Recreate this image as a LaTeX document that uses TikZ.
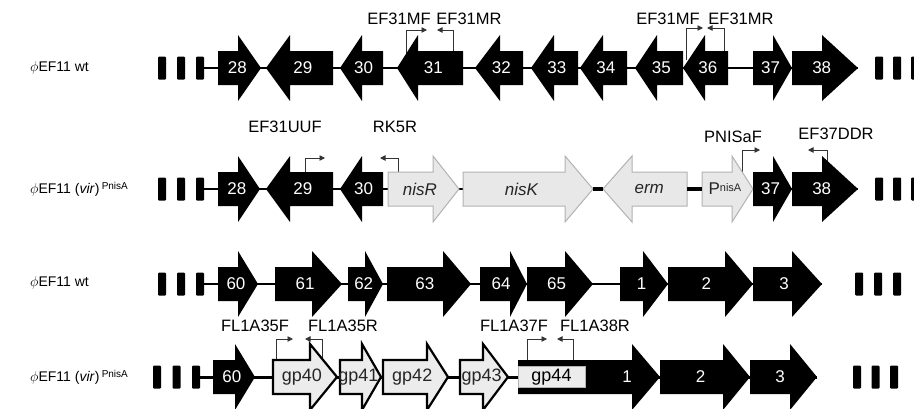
\documentclass[tikz,border=0pt]{standalone}
\usepackage{fontspec}
\setmainfont{Liberation Sans}
\usetikzlibrary{arrows.meta, backgrounds}

\def\bodyh{17}
\def\headh{33}

% style, name, back end, head base, tip, row y, label
\newcommand{\gene}[7]{%
  \path[#1] (#3,#6-\bodyh) -- (#4,#6-\bodyh) -- (#4,#6-\headh) -- (#5,#6)
    -- (#4,#6+\headh) -- (#4,#6+\bodyh) -- (#3,#6+\bodyh) -- cycle;
  \coordinate (#2 back) at (#3,#6);
  \coordinate (#2 tip) at (#5,#6);
  \node[#1 txt] (#2) at ({#3+0.45*(#5-#3)},#6) {#7};
}
% name, x, foot y, bend y, x of arrow tip
\newcommand{\primer}[5]{%
  \coordinate (#1 foot) at (#2,#3);
  \coordinate (#1 tip) at (#5,#4);
  \draw[primer] (#1 foot) |- (#1 tip);
}

\tikzset{
  orf/.style={fill=black},
  orf txt/.style={text=white, font=\fontsize{17}{17}\selectfont, inner sep=0pt},
  cassette/.style={fill=gray!18, draw=gray!60, line width=1pt},
  cassette txt/.style={text=black!85, font=\fontsize{17}{17}\selectfont\itshape, inner sep=0pt},
  hybrid/.style={fill=gray!15, draw=black, line width=2.2pt},
  hybrid txt/.style={text=black!85, font=\fontsize{18}{18}\selectfont, inner sep=0pt},
  gp box/.style={fill=gray!15, draw=gray!60, line width=0.8pt, minimum width=67pt,
    minimum height=21pt, inner sep=0pt, font=\fontsize{18}{18}\selectfont},
  blockmark/.style={fill=black, rounded corners=1pt, minimum width=8pt, minimum height=23pt, inner sep=0pt},
  backbone/.style={line width=2.5pt},
  primer/.style={line width=0.9pt, draw=black!80, -{Triangle[length=5.5pt,width=5.5pt]}},
  primer txt/.style={font=\fontsize{16.5}{16.5}\selectfont, inner sep=0pt},
  row txt/.style={anchor=west, font=\fontsize{14}{14}\selectfont, inner sep=0pt}
}

\begin{document}
\begin{tikzpicture}[x=1pt, y=-1pt]
    \useasboundingbox (0,0) rectangle (914,408);

    % row labels
    \node[row txt] (r1name) at (30,68) {$\phi$EF11 wt};
    \node[row txt] (r2name) at (30,189) {$\phi$EF11 (\textit{vir})\,\raisebox{4pt}{\fontsize{10}{10}\selectfont PnisA}};
    \node[row txt] (r3name) at (30,283) {$\phi$EF11 wt};
    \node[row txt] (r4name) at (30,377) {$\phi$EF11 (\textit{vir})\,\raisebox{4pt}{\fontsize{10}{10}\selectfont PnisA}};

    % row 1: wild type, genes 28-38
    \foreach \i in {0,1,2} {
        \node[blockmark] (r1L\i) at (162+19*\i,68) {};
        \node[blockmark] (r1R\i) at (879+18*\i,68) {};
    }
    \primer{p1}{406}{60}{30}{427}
    \primer{p2}{453}{60}{30}{437}
    \primer{p3}{686}{60}{28}{703}
    \primer{p4}{724}{60}{28}{707}
    \gene{orf}{r1g28}{218}{238}{261}{68}{28}
    \gene{orf}{r1g29}{333}{290}{266}{68}{29}
    \gene{orf}{r1g30}{383}{362}{340}{68}{30}
    \gene{orf}{r1g31}{463}{418}{397}{68}{31}
    \gene{orf}{r1g32}{523}{500}{475}{68}{32}
    \gene{orf}{r1g33}{578}{554}{531}{68}{33}
    \gene{orf}{r1g34}{627}{603}{580}{68}{34}
    \gene{orf}{r1g35}{683}{657}{635}{68}{35}
    \gene{orf}{r1g36}{728}{705}{683}{68}{36}
    \gene{orf}{r1g37}{753}{773}{792}{68}{37}
    \gene{orf}{r1g38}{792}{822}{858}{68}{38}
    \node[primer txt] (EF31MFa) at (399,19) {EF31MF};
    \node[primer txt] (EF31MRa) at (469,19) {EF31MR};
    \node[primer txt] (EF31MFb) at (668,19) {EF31MF};
    \node[primer txt] (EF31MRb) at (741,19) {EF31MR};

    % row 2: vir with nisin cassette
    \foreach \i in {0,1,2} {
        \node[blockmark] (r2L\i) at (162+19*\i,189) {};
        \node[blockmark] (r2R\i) at (879+18*\i,189) {};
    }
    \primer{p5}{305}{180}{158}{325}
    \primer{p6}{398}{180}{158}{380}
    \primer{p7}{742}{180}{150}{760}
    \primer{p8}{827}{180}{150}{808}
    \gene{orf}{r2g28}{218}{238}{260}{189}{28}
    \gene{orf}{r2g29}{333}{290}{266}{189}{29}
    \gene{orf}{r2g30}{383}{362}{340}{189}{30}
    \gene{cassette}{nisR}{388}{433}{459}{189}{nisR}
    \gene{cassette}{nisK}{463}{565}{593}{189}{nisK}
    \gene{cassette}{erm}{687}{632}{603}{189}{erm}
    \gene{cassette}{PnisA}{702}{732}{753}{189}{\upshape P\raisebox{3.5pt}{\fontsize{11}{11}\selectfont nisA}}
    \gene{orf}{r2g37}{753}{773}{792}{189}{37}
    \gene{orf}{r2g38}{792}{822}{858}{189}{38}
    \draw[line width=4pt] (nisK tip) -- (erm tip);
    \draw[line width=4pt] (erm back) -- (PnisA back);
    \node[primer txt] (EF31UUF) at (285,127) {EF31UUF};
    \node[primer txt] (RK5R) at (395,127) {RK5R};
    \node[primer txt] (PNISaF) at (733,137) {PNISaF};
    \node[primer txt] (EF37DDR) at (836,134) {EF37DDR};

    % row 3: wild type, genes 60-3
    \foreach \i in {0,1,2} {
        \node[blockmark] (r3L\i) at (162+19*\i,284) {};
        \node[blockmark] (r3R\i) at (859+19*\i,284) {};
    }
    \gene{orf}{r3g60}{218}{238}{258}{284}{60}
    \gene{orf}{r3g61}{275}{312}{342}{284}{61}
    \gene{orf}{r3g62}{348}{365}{383}{284}{62}
    \gene{orf}{r3g63}{387}{443}{471}{284}{63}
    \gene{orf}{r3g64}{480}{510}{527}{284}{64}
    \gene{orf}{r3g65}{527}{565}{593}{284}{65}
    \gene{orf}{r3g1}{620}{643}{668}{284}{1}
    \gene{orf}{r3g2}{668}{725}{753}{284}{2}
    \gene{orf}{r3g3}{753}{792}{822}{284}{3}

    % row 4: vir, gp40-gp44
    \foreach \i in {0,1,2} {
        \node[blockmark] (r4L\i) at (157+19.5*\i,377) {};
        \node[blockmark] (r4R\i) at (857+18.5*\i,377) {};
    }
    \primer{p9}{276}{370}{339}{293}
    \primer{p10}{322}{370}{339}{305}
    \primer{p11}{527}{370}{339}{547}
    \primer{p12}{573}{370}{339}{557}
    \gene{orf}{r4g60}{213}{235}{255}{377}{60}
    \gene{hybrid}{gp40}{273}{310}{337}{377}{gp40}
    \gene{hybrid}{gp41}{340}{362}{381}{377}{gp41}
    \gene{hybrid}{gp42}{383}{427}{448}{377}{gp42}
    \gene{hybrid}{gp43}{460}{483}{508}{377}{gp43}
    \gene{orf}{r4g1}{518}{632}{660}{377}{}
    \node[gp box] (gp44) at (551.5,377) {gp44};
    \node[orf txt] (r4g1txt) at (627,377) {1};
    \gene{orf}{r4g2}{660}{723}{750}{377}{2}
    \gene{orf}{r4g3}{750}{790}{817}{377}{3}
    \node[primer txt] (FL1A35F) at (255,326) {FL1A35F};
    \node[primer txt] (FL1A35R) at (343,326) {FL1A35R};
    \node[primer txt] (FL1A37F) at (514,326) {FL1A37F};
    \node[primer txt] (FL1A38R) at (595,326) {FL1A38R};

    % backbones
    \begin{pgfonlayer}{background}
        \draw[backbone] (r1L2) -- (r1g38 tip);
        \draw[backbone] (r2L2) -- (r2g38 tip);
        \draw[backbone] (r3L2) -- (r3g3 tip);
        \draw[backbone, line width=3pt] (r4L2) -- (r4g3 tip);
    \end{pgfonlayer}
\end{tikzpicture}
\end{document}
